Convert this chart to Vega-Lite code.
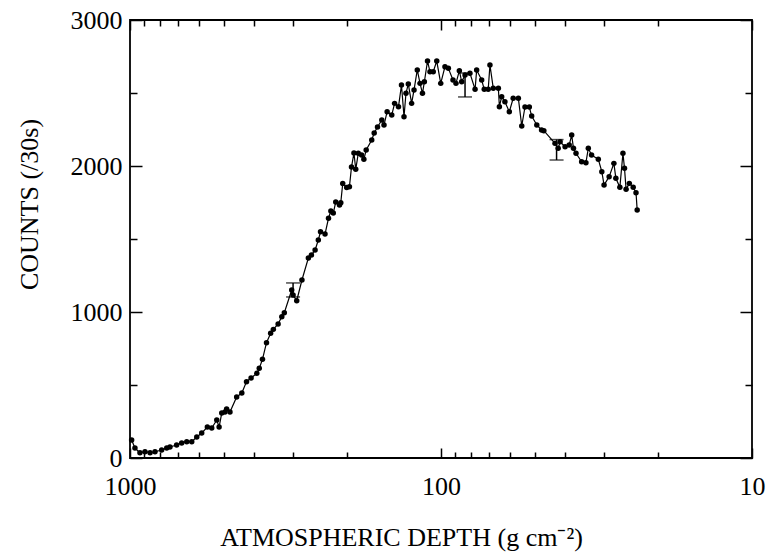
{
  "$schema": "https://vega.github.io/schema/vega-lite/v6.json",
  "width": 622,
  "height": 438,
  "autosize": "none",
  "padding": {"left": 130, "top": 20, "right": 16, "bottom": 101},
  "background": "white",
  "config": {
    "view": {"stroke": "black", "strokeWidth": 1.8},
    "axis": {
      "labelFont": "Liberation Serif",
      "titleFont": "Liberation Serif",
      "labelFontSize": 26,
      "titleFontSize": 26,
      "titleFontWeight": "normal",
      "labelColor": "black",
      "titleColor": "black",
      "tickColor": "black",
      "tickWidth": 1.5,
      "domain": false,
      "grid": false,
      "labelFlush": false,
      "labelOverlap": false
    }
  },
  "datasets": {
    "main": [
      {"d": 988, "c": 123}, {"d": 964, "c": 68}, {"d": 929, "c": 36}, {"d": 895, "c": 43},
      {"d": 862, "c": 36}, {"d": 831, "c": 43}, {"d": 791, "c": 55}, {"d": 762, "c": 68},
      {"d": 744, "c": 75}, {"d": 708, "c": 89}, {"d": 682, "c": 103}, {"d": 657, "c": 112},
      {"d": 633, "c": 112}, {"d": 610, "c": 144}, {"d": 588, "c": 171}, {"d": 564, "c": 212},
      {"d": 546, "c": 205}, {"d": 526, "c": 260}, {"d": 517, "c": 212}, {"d": 507, "c": 308},
      {"d": 495, "c": 315}, {"d": 489, "c": 336}, {"d": 477, "c": 315}, {"d": 454, "c": 418},
      {"d": 437, "c": 445}, {"d": 422, "c": 523}, {"d": 408, "c": 548}, {"d": 391, "c": 580},
      {"d": 384, "c": 614}, {"d": 375, "c": 676}, {"d": 364, "c": 790}, {"d": 353, "c": 854},
      {"d": 346, "c": 881}, {"d": 334, "c": 918}, {"d": 325, "c": 968}, {"d": 319, "c": 995},
      {"d": 302, "c": 1151}, {"d": 299, "c": 1116}, {"d": 291, "c": 1077}, {"d": 280, "c": 1219},
      {"d": 267, "c": 1370}, {"d": 261, "c": 1390}, {"d": 254, "c": 1425}, {"d": 248, "c": 1493},
      {"d": 244, "c": 1550}, {"d": 236, "c": 1534}, {"d": 230, "c": 1642}, {"d": 226, "c": 1692},
      {"d": 222, "c": 1678}, {"d": 218, "c": 1753}, {"d": 212, "c": 1733}, {"d": 210, "c": 1749},
      {"d": 207, "c": 1880}, {"d": 201, "c": 1853}, {"d": 197, "c": 1858}, {"d": 194, "c": 1993},
      {"d": 190.5, "c": 2089}, {"d": 188, "c": 1977}, {"d": 184.5, "c": 2087}, {"d": 180, "c": 2075},
      {"d": 177, "c": 2046}, {"d": 174, "c": 2110}, {"d": 167, "c": 2178}, {"d": 164, "c": 2226},
      {"d": 160, "c": 2267}, {"d": 155, "c": 2315}, {"d": 152.5, "c": 2281}, {"d": 149, "c": 2372},
      {"d": 144, "c": 2349}, {"d": 141, "c": 2429}, {"d": 137, "c": 2406}, {"d": 134, "c": 2555},
      {"d": 131.5, "c": 2338}, {"d": 129.6, "c": 2498}, {"d": 127.4, "c": 2562}, {"d": 124.3, "c": 2429},
      {"d": 122.1, "c": 2521}, {"d": 119.2, "c": 2658}, {"d": 116.8, "c": 2566}, {"d": 114.7, "c": 2498},
      {"d": 113.1, "c": 2577}, {"d": 110.5, "c": 2719}, {"d": 108.5, "c": 2646}, {"d": 105.9, "c": 2646},
      {"d": 103.2, "c": 2719}, {"d": 100.2, "c": 2566}, {"d": 97.1, "c": 2680}, {"d": 94.7, "c": 2669},
      {"d": 91.5, "c": 2589}, {"d": 89.5, "c": 2566}, {"d": 87.3, "c": 2653}, {"d": 85.8, "c": 2577},
      {"d": 83.7, "c": 2623}, {"d": 80.7, "c": 2635}, {"d": 77.7, "c": 2525}, {"d": 76.8, "c": 2657},
      {"d": 74.0, "c": 2589}, {"d": 72.6, "c": 2525}, {"d": 70.5, "c": 2525}, {"d": 69.6, "c": 2692},
      {"d": 67.9, "c": 2532}, {"d": 65.4, "c": 2532}, {"d": 64.9, "c": 2406}, {"d": 63.8, "c": 2475},
      {"d": 62.3, "c": 2440}, {"d": 60.3, "c": 2372}, {"d": 58.6, "c": 2464}, {"d": 56.4, "c": 2464},
      {"d": 55.0, "c": 2274}, {"d": 53.7, "c": 2404}, {"d": 52.0, "c": 2404}, {"d": 51.1, "c": 2342},
      {"d": 49.2, "c": 2281}, {"d": 47.5, "c": 2247}, {"d": 46.7, "c": 2242}, {"d": 43.0, "c": 2155},
      {"d": 42.0, "c": 2121}, {"d": 41.4, "c": 2166}, {"d": 39.9, "c": 2132}, {"d": 38.7, "c": 2144},
      {"d": 38.0, "c": 2212}, {"d": 37.5, "c": 2121}, {"d": 36.8, "c": 2087}, {"d": 35.3, "c": 2029},
      {"d": 34.2, "c": 2023}, {"d": 33.6, "c": 2121}, {"d": 32.8, "c": 2075}, {"d": 31.2, "c": 2046},
      {"d": 30.4, "c": 1961}, {"d": 29.9, "c": 1870}, {"d": 28.8, "c": 1927}, {"d": 27.8, "c": 2018},
      {"d": 27.4, "c": 1916}, {"d": 26.6, "c": 1854}, {"d": 26.0, "c": 2087}, {"d": 25.7, "c": 1984},
      {"d": 25.4, "c": 1840}, {"d": 24.8, "c": 1881}, {"d": 24.1, "c": 1854}, {"d": 23.6, "c": 1817},
      {"d": 23.4, "c": 1699}
    ],
    "err": [
      {"d": 299, "lo": 1103, "hi": 1199},
      {"d": 83.7, "lo": 2473, "hi": 2637},
      {"d": 42.5, "lo": 2041, "hi": 2181}
    ]
  },
  "resolve": {"axis": {"x": "independent", "y": "independent"}},
  "layer": [
    {
      "data": {"name": "main"},
      "mark": {"type": "line", "color": "black", "strokeWidth": 1.2},
      "encoding": {
        "x": {
          "field": "d", "type": "quantitative",
          "scale": {"type": "log", "domain": [10, 1000], "reverse": true},
          "axis": {
            "orient": "bottom", "values": [1000, 100, 10], "format": "d",
            "tickSize": -10, "labelPadding": 25,
            "title": "ATMOSPHERIC DEPTH  (g cm⁻²)",
            "titleX": 271, "titleY": 87, "titleAlign": "center", "titleBaseline": "alphabetic"
          }
        },
        "y": {
          "field": "c", "type": "quantitative",
          "scale": {"domain": [0, 3000], "nice": false},
          "axis": {
            "orient": "left", "values": [0, 1000, 2000, 3000], "format": "d",
            "tickSize": -12, "labelPadding": 20,
            "title": "COUNTS (/30s)",
            "titleX": -101, "titleY": 184, "titleAngle": -90, "titleAlign": "center", "titleBaseline": "middle"
          }
        }
      }
    },
    {
      "data": {"name": "main"},
      "mark": {"type": "point", "filled": true, "color": "black", "size": 30, "opacity": 1},
      "encoding": {
        "x": {
          "field": "d", "type": "quantitative",
          "scale": {"type": "log", "domain": [10, 1000], "reverse": true},
          "axis": {
            "orient": "bottom",
            "values": [900, 800, 700, 600, 500, 400, 300, 200, 90, 80, 70, 60, 50, 40, 30, 20],
            "tickSize": -6, "labels": false, "title": null
          }
        },
        "y": {
          "field": "c", "type": "quantitative",
          "scale": {"domain": [0, 3000], "nice": false},
          "axis": {"orient": "left", "values": [500, 1500, 2500], "tickSize": -7, "labels": false, "title": null}
        }
      }
    },
    {
      "data": {"name": "err"},
      "mark": {"type": "rule", "color": "black", "strokeWidth": 1.5},
      "encoding": {
        "x": {
          "field": "d", "type": "quantitative",
          "scale": {"type": "log", "domain": [10, 1000], "reverse": true},
          "axis": {"orient": "top", "values": [1000, 100, 10], "tickSize": -10, "labels": false, "title": null}
        },
        "y": {
          "field": "lo", "type": "quantitative",
          "scale": {"domain": [0, 3000], "nice": false},
          "axis": {"orient": "right", "values": [0, 1000, 2000, 3000], "tickSize": -12, "labels": false, "title": null}
        },
        "y2": {"field": "hi"}
      }
    },
    {
      "data": {"name": "err"},
      "mark": {"type": "tick", "orient": "horizontal", "color": "black", "size": 14, "thickness": 1.5},
      "encoding": {
        "x": {
          "field": "d", "type": "quantitative",
          "scale": {"type": "log", "domain": [10, 1000], "reverse": true},
          "axis": {
            "orient": "top",
            "values": [900, 800, 700, 600, 500, 400, 300, 200, 90, 80, 70, 60, 50, 40, 30, 20],
            "tickSize": -6, "labels": false, "title": null
          }
        },
        "y": {
          "field": "lo", "type": "quantitative",
          "scale": {"domain": [0, 3000], "nice": false},
          "axis": {"orient": "right", "values": [500, 1500, 2500], "tickSize": -7, "labels": false, "title": null}
        }
      }
    },
    {
      "data": {"name": "err"},
      "mark": {"type": "tick", "orient": "horizontal", "color": "black", "size": 14, "thickness": 1.5},
      "encoding": {
        "x": {
          "field": "d", "type": "quantitative",
          "scale": {"type": "log", "domain": [10, 1000], "reverse": true},
          "axis": null
        },
        "y": {
          "field": "hi", "type": "quantitative",
          "scale": {"domain": [0, 3000], "nice": false},
          "axis": null
        }
      }
    }
  ]
}
